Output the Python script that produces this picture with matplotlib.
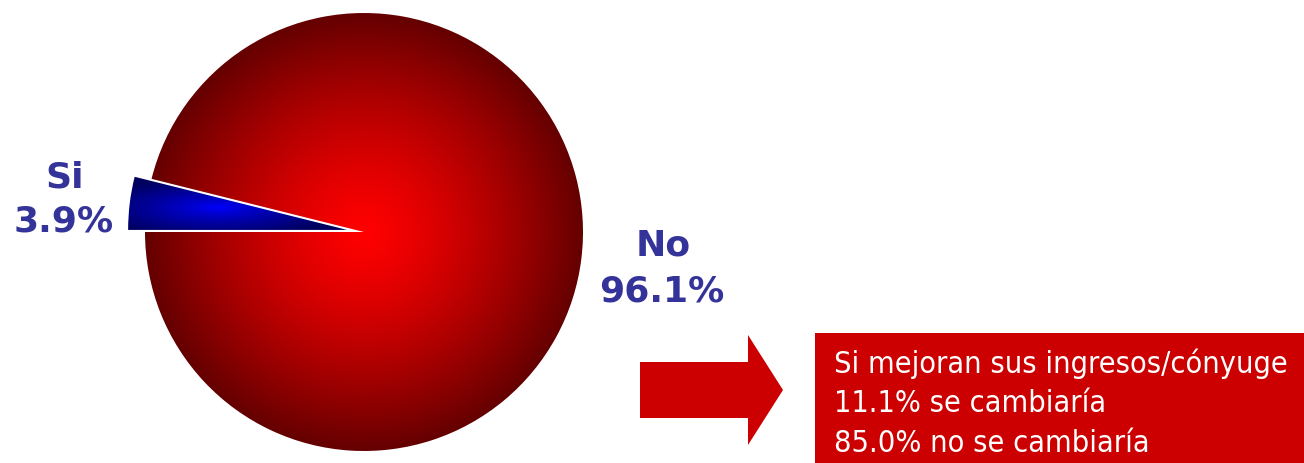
import numpy as np
import matplotlib
matplotlib.use("Agg")
import matplotlib.pyplot as plt
from matplotlib.patches import Rectangle, Polygon

# data
categories = ["Si", "No"]
shares = [3.9, 96.1]
pct_labels = ["3.9%", "96.1%"]
note_lines = ["Si mejoran sus ingresos/cónyuge",
              "11.1% se cambiaría",
              "85.0% no se cambiaría"]

W, H = 1304, 463
fig = plt.figure(figsize=(W / 100, H / 100), dpi=100)
ax = fig.add_axes([0, 0, 1, 1])

cx, cy, R = 364, 463 - 232, 219
start = 180 - shares[0] * 3.6
wedges, _ = ax.pie(shares, startangle=start, center=(cx, cy), radius=R,
                   explode=[17, 0], frame=True,
                   wedgeprops=dict(linewidth=0, facecolor="none"))
ax.set_xlim(0, W)
ax.set_ylim(0, H)
ax.set_aspect("auto")
ax.axis("off")

# radial red gradient for the "No" slice
yy, xx = np.mgrid[0:H, 0:W]
yy = H - yy
r = np.clip(np.hypot(xx - cx, yy - cy) / R, 0, 1)
red = np.zeros((H, W, 3))
red[..., 0] = (255 - 155 * r ** 1.3) / 255
im = ax.imshow(red, extent=(0, W, 0, H), origin="upper", zorder=1, aspect="auto")
im.set_clip_path(wedges[1])

# blue gradient for the "Si" slice
bx, by = 218, 463 - 207
d = np.clip(np.hypot((xx - bx) / 125, (yy - by) / 30), 0, 1)
blue = np.zeros((H, W, 3))
blue[..., 2] = (255 - 160 * d ** 0.8) / 255
im2 = ax.imshow(blue, extent=(0, W, 0, H), origin="upper", zorder=1, aspect="auto")
im2.set_clip_path(wedges[0])

lab_col = "#333399"
lab_kw = dict(ha="center", va="center", fontsize=26, fontweight="bold",
              color=lab_col, zorder=3)
ax.text(65, H - 178, categories[0], **lab_kw)
ax.text(64, H - 222, pct_labels[0], **lab_kw)
ax.text(663, H - 246, categories[1], **lab_kw)
ax.text(662, H - 292, pct_labels[1], **lab_kw)

# arrow
arrow_pts = [(640, H - 362), (748, H - 362), (748, H - 335), (783, H - 390),
             (748, H - 445), (748, H - 418), (640, H - 418)]
ax.add_patch(Polygon(arrow_pts, closed=True, facecolor="#cc0000",
                     edgecolor="none", zorder=2))

# note box
ax.add_patch(Rectangle((815, 0), W - 815, H - 333, facecolor="#cc0000",
                       edgecolor="none", zorder=2))
for i, line in enumerate(note_lines):
    ax.text(834, H - 364 - i * 39.5, line, ha="left", va="center",
            fontsize=22, color="white", zorder=3,
            family="DejaVu Sans", stretch="condensed")

fig.savefig("out.png", dpi=100)
